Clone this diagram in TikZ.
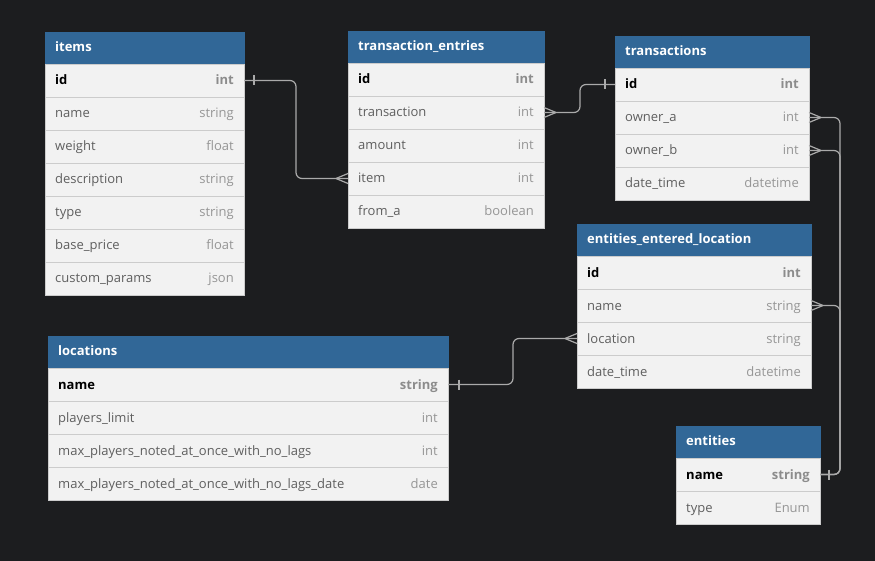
\documentclass[tikz,border=0pt]{standalone}
\usepackage{fontspec}
\setmainfont{Open Sans}
\definecolor{bgc}{RGB}{28,29,31}
\definecolor{headc}{RGB}{49,103,151}
\definecolor{rowc}{RGB}{242,242,242}
\definecolor{sepc}{RGB}{204,204,204}
\definecolor{connc}{RGB}{170,170,170}
\definecolor{fnamec}{RGB}{95,95,95}
\definecolor{ftypec}{RGB}{150,150,150}
\definecolor{ktypec}{RGB}{140,140,140}
\tikzset{
  headbox/.style={fill=headc, draw=headc, minimum height=32pt, inner sep=0pt, outer sep=0pt, line width=0.6pt},
  headtext/.style={text=white, font=\fontsize{13}{15}\selectfont\bfseries, inner sep=0pt, text height=9.5pt, text depth=2.5pt},
  rowbox/.style={fill=rowc, draw=sepc, minimum height=33pt, inner sep=0pt, outer sep=0pt, line width=0.8pt},
  keyname/.style={text=black, font=\fontsize{13}{15}\selectfont\bfseries, inner sep=0pt, text height=9.5pt, text depth=2.5pt},
  keytype/.style={text=ktypec, font=\fontsize{13}{15}\selectfont\bfseries, inner sep=0pt, text height=9.5pt, text depth=2.5pt},
  fldname/.style={text=fnamec, font=\fontsize{13}{15}\selectfont, inner sep=0pt, text height=9.5pt, text depth=2.5pt},
  fldtype/.style={text=ftypec, font=\fontsize{13}{15}\selectfont, inner sep=0pt, text height=9.5pt, text depth=2.5pt},
  conn/.style={draw=connc, line width=1.2pt, rounded corners=6pt},
  endmark/.style={draw=connc, line width=1.2pt},
}
\newcommand\ehead[5]{%
  \node[headbox, minimum width=#4, anchor=north west] (#1) at (#2,#3) {};
  \node[headtext, anchor=west] (#1-title) at ([xshift=10pt]#1.west) {#5};}
\newcommand\erow[7]{%
  \node[rowbox, minimum width=#4, anchor=north west] (#1) at (#2,#3) {};
  \node[#7name, anchor=west] (#1-n) at ([xshift=10pt,yshift=-1pt]#1.west) {#5};
  \node[#7type, anchor=east] (#1-t) at ([xshift=-10pt,yshift=-1pt]#1.east) {#6};}
\begin{document}
\begin{tikzpicture}[x=1pt,y=-1pt]
\useasboundingbox (0,0) rectangle (875,561);
\fill[bgc] (0,0) rectangle (875,561);

% items
\ehead{items}{45}{32}{199pt}{items}
\erow{items-id}{45}{64}{199pt}{id}{int}{key}
\erow{items-name}{45}{97}{199pt}{name}{string}{fld}
\erow{items-weight}{45}{130}{199pt}{weight}{float}{fld}
\erow{items-description}{45}{163}{199pt}{description}{string}{fld}
\erow{items-type}{45}{196}{199pt}{type}{string}{fld}
\erow{items-base}{45}{229}{199pt}{base\_price}{float}{fld}
\erow{items-custom}{45}{262}{199pt}{custom\_params}{json}{fld}

% transaction_entries
\ehead{te}{348}{31}{196pt}{transaction\_entries}
\erow{te-id}{348}{63}{196pt}{id}{int}{key}
\erow{te-transaction}{348}{96}{196pt}{transaction}{int}{fld}
\erow{te-amount}{348}{129}{196pt}{amount}{int}{fld}
\erow{te-item}{348}{162}{196pt}{item}{int}{fld}
\erow{te-froma}{348}{195}{196pt}{from\_a}{boolean}{fld}

% transactions
\ehead{tr}{615}{36}{194pt}{transactions}
\erow{tr-id}{615}{68}{194pt}{id}{int}{key}
\erow{tr-ownera}{615}{101}{194pt}{owner\_a}{int}{fld}
\erow{tr-ownerb}{615}{134}{194pt}{owner\_b}{int}{fld}
\erow{tr-datetime}{615}{167}{194pt}{date\_time}{datetime}{fld}

% entities_entered_location
\ehead{eel}{577}{224}{234pt}{entities\_entered\_location}
\erow{eel-id}{577}{256}{234pt}{id}{int}{key}
\erow{eel-name}{577}{289}{234pt}{name}{string}{fld}
\erow{eel-location}{577}{322}{234pt}{location}{string}{fld}
\erow{eel-datetime}{577}{355}{234pt}{date\_time}{datetime}{fld}

% locations
\ehead{loc}{48}{336}{400pt}{locations}
\erow{loc-name}{48}{368}{400pt}{name}{string}{key}
\erow{loc-players}{48}{401}{400pt}{players\_limit}{int}{fld}
\erow{loc-max}{48}{434}{400pt}{max\_players\_noted\_at\_once\_with\_no\_lags}{int}{fld}
\erow{loc-maxdate}{48}{467}{400pt}{max\_players\_noted\_at\_once\_with\_no\_lags\_date}{date}{fld}

% entities
\ehead{en}{676}{426}{144pt}{entities}
\erow{en-name}{676}{458}{144pt}{name}{string}{key}
\erow{en-type}{676}{491}{144pt}{type}{Enum}{fld}

% connectors
\coordinate (j1) at (296,130);
\coordinate (j2) at (580,100);
\coordinate (j3) at (840,420);
\coordinate (j4) at (513,360);

\draw[conn] (items-id.east) -| (j1) |- (te-item.west);
\draw[endmark] ([xshift=10pt,yshift=5pt]items-id.east) -- ([xshift=10pt,yshift=-5pt]items-id.east);
\draw[endmark] ([xshift=-12pt]te-item.west) -- ([yshift=5pt]te-item.west)
            ([xshift=-12pt]te-item.west) -- ([yshift=-5pt]te-item.west);

\draw[conn] (te-transaction.east) -| (j2) |- (tr-id.west);
\draw[endmark] ([xshift=12pt]te-transaction.east) -- ([yshift=5pt]te-transaction.east)
            ([xshift=12pt]te-transaction.east) -- ([yshift=-5pt]te-transaction.east);
\draw[endmark] ([xshift=-10pt,yshift=5pt]tr-id.west) -- ([xshift=-10pt,yshift=-5pt]tr-id.west);

\draw[conn] (tr-ownera.east) -| (j3) |- (en-name.east);
\draw[conn] (tr-ownerb.east) -| (j3) |- (en-name.east);
\draw[conn] (eel-name.east) -| (j3) |- (en-name.east);
\draw[endmark] ([xshift=12pt]tr-ownera.east) -- ([yshift=5pt]tr-ownera.east)
            ([xshift=12pt]tr-ownera.east) -- ([yshift=-5pt]tr-ownera.east);
\draw[endmark] ([xshift=12pt]tr-ownerb.east) -- ([yshift=5pt]tr-ownerb.east)
            ([xshift=12pt]tr-ownerb.east) -- ([yshift=-5pt]tr-ownerb.east);
\draw[endmark] ([xshift=12pt]eel-name.east) -- ([yshift=5pt]eel-name.east)
            ([xshift=12pt]eel-name.east) -- ([yshift=-5pt]eel-name.east);
\draw[endmark] ([xshift=9pt,yshift=5pt]en-name.east) -- ([xshift=9pt,yshift=-5pt]en-name.east);

\draw[conn] (loc-name.east) -| (j4) |- (eel-location.west);
\draw[endmark] ([xshift=11pt,yshift=5pt]loc-name.east) -- ([xshift=11pt,yshift=-5pt]loc-name.east);
\draw[endmark] ([xshift=-12pt]eel-location.west) -- ([yshift=5pt]eel-location.west)
            ([xshift=-12pt]eel-location.west) -- ([yshift=-5pt]eel-location.west);
\end{tikzpicture}
\end{document}
